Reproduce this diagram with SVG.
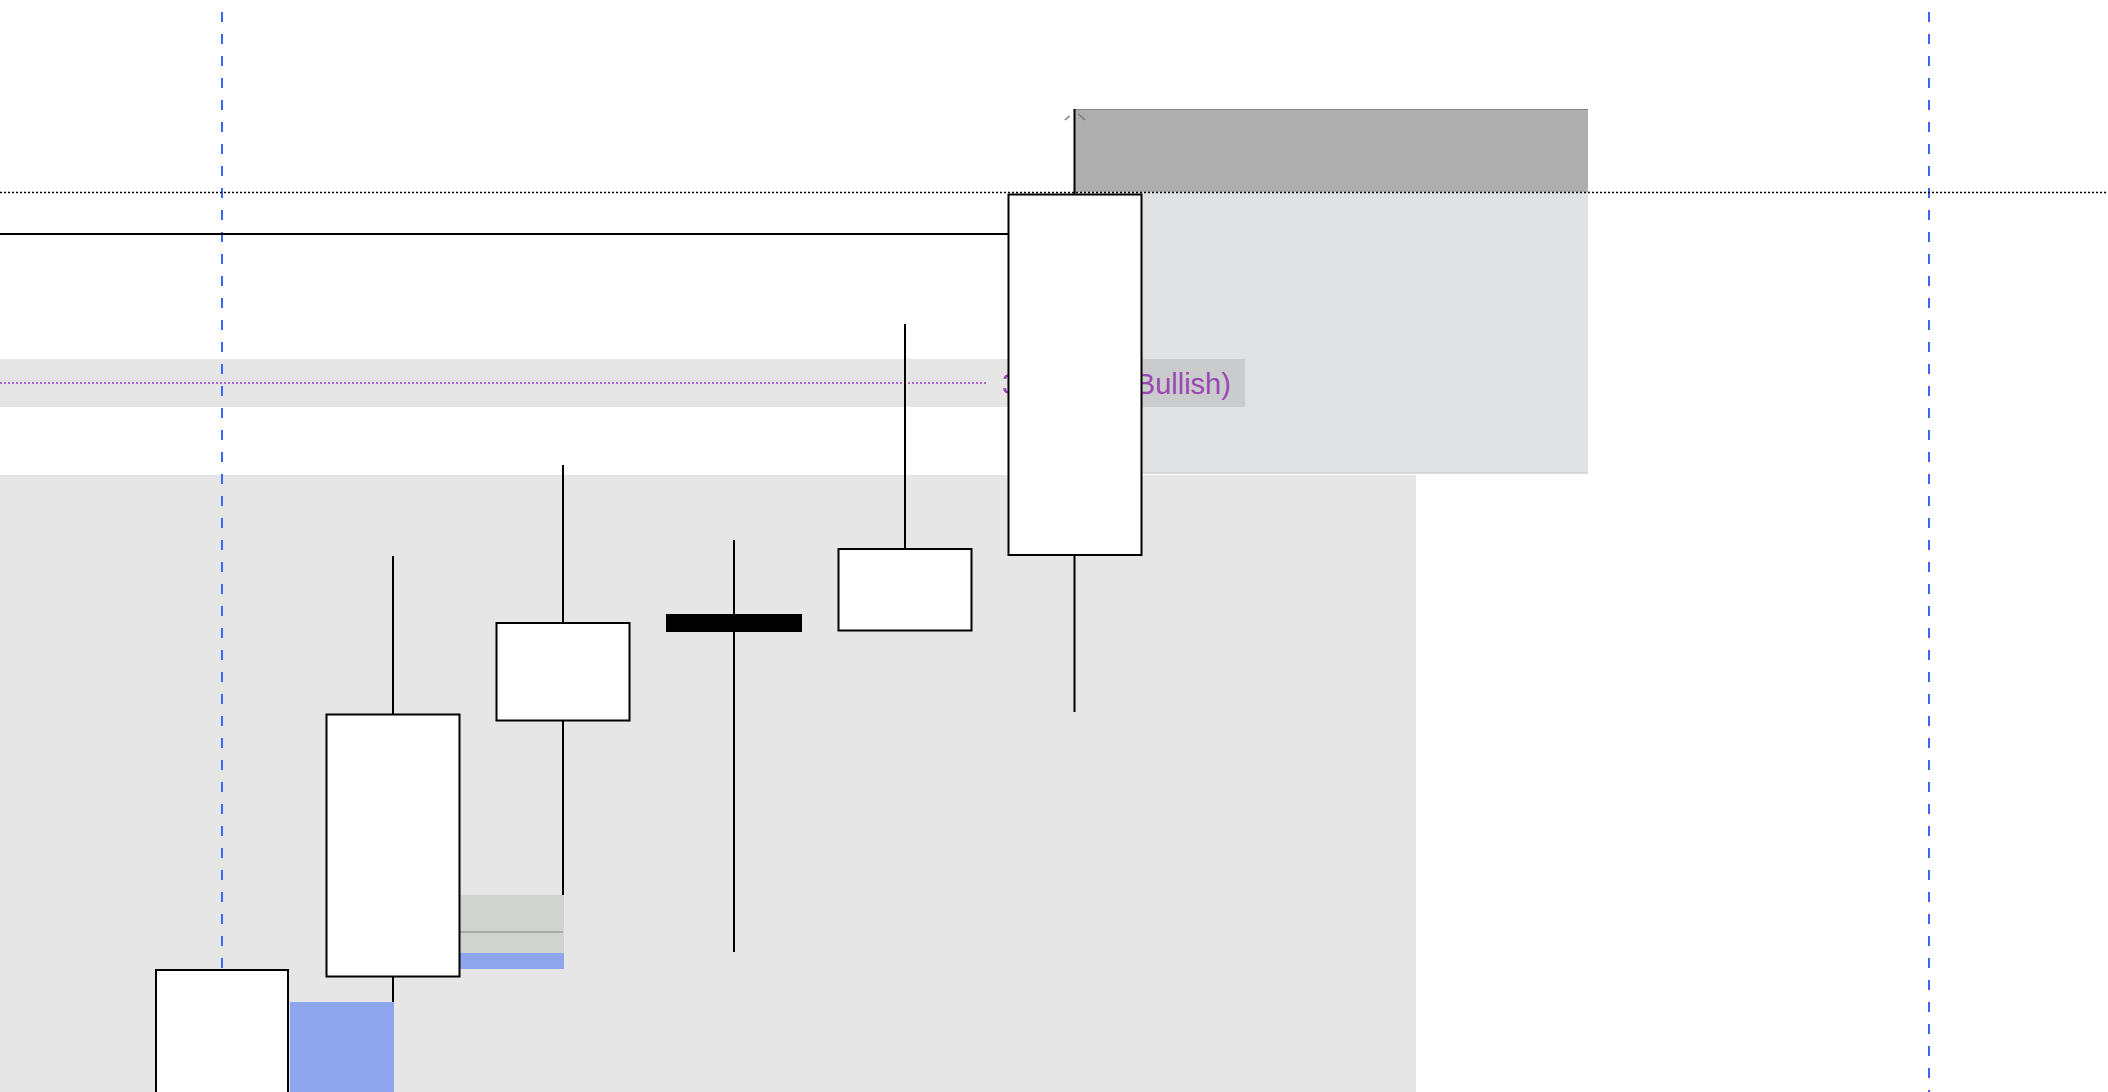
<svg xmlns="http://www.w3.org/2000/svg" width="2108" height="1092" viewBox="0 0 2108 1092">
<style>
.body{fill:#ffffff;stroke:#000000;stroke-width:2}
.wick{stroke:#000000;stroke-width:2;fill:none}
.vdash{stroke:#3a66f5;stroke-width:2;stroke-dasharray:10 12;stroke-dashoffset:-12}
.label{font-family:"Liberation Sans",Arial,sans-serif;font-size:29px;fill:#9a47b3}
</style>
<rect width="2108" height="1092" fill="#ffffff"/>
<g id="zones">
  <rect x="0" y="475" width="1416" height="617" fill="#e6e6e6"/>
  <rect x="1074" y="192" width="514" height="281" fill="#e1e2e4"/>
  <line x1="1074" y1="473" x2="1588" y2="473" stroke="#d0d1d5" stroke-width="1.5"/>
  <rect x="1074" y="109" width="514" height="83" fill="#aeaeae"/>
  <line x1="1074" y1="109.5" x2="1588" y2="109.5" stroke="#888888" stroke-width="1.2"/>
  <rect x="0" y="359" width="1245" height="48" fill="#000000" fill-opacity="0.1"/>
  <rect x="460" y="895" width="104" height="58" fill="#cfd4d1"/>
  <line x1="460" y1="932" x2="563" y2="932" stroke="#999d9a" stroke-width="1.5"/>
  <rect x="460" y="953" width="104" height="16" fill="#8fa5ee"/>
  <rect x="290" y="1002" width="104" height="90" fill="#8fa5ee"/>
</g>
<g id="connectors">
  <line class="vdash" x1="222" y1="0" x2="222" y2="1092"/>
  <line class="vdash" x1="1929" y1="0" x2="1929" y2="1092"/>
  <line x1="0" y1="192.5" x2="2108" y2="192.5" stroke="#000000" stroke-width="1.5" stroke-dasharray="2 2"/>
  <line x1="0" y1="234" x2="1008" y2="234" stroke="#000000" stroke-width="2"/>
  <line x1="0" y1="383" x2="988" y2="383" stroke="#9a3fc0" stroke-width="1.5" stroke-dasharray="2 2"/>
  <line x1="1065" y1="120" x2="1069.5" y2="116" stroke="#777777" stroke-width="1.5"/>
  <line x1="1078.5" y1="114" x2="1085" y2="120" stroke="#777777" stroke-width="1.5"/>
</g>
<g id="label">
  <text class="label" x="1002" y="394">3 Candle (Bullish)</text>
</g>
<g id="candle1">
  <rect class="body" x="156" y="970" width="132" height="130"/>
</g>
<g id="candle2">
  <line class="wick" x1="393" y1="556" x2="393" y2="1002"/>
  <rect class="body" x="326.5" y="714.5" width="133" height="262"/>
</g>
<g id="candle3">
  <line class="wick" x1="563" y1="465" x2="563" y2="895"/>
  <rect class="body" x="496.5" y="623" width="133" height="97.5"/>
</g>
<g id="candle4">
  <line class="wick" x1="734" y1="540" x2="734" y2="952"/>
  <rect x="666" y="614" width="136" height="18" fill="#000000"/>
</g>
<g id="candle5">
  <line class="wick" x1="905" y1="324" x2="905" y2="549"/>
  <rect class="body" x="838.5" y="549" width="133" height="81.5"/>
</g>
<g id="candle6">
  <line class="wick" x1="1074.5" y1="109" x2="1074.5" y2="712"/>
  <rect class="body" x="1008.5" y="194.5" width="133" height="360.5"/>
</g>
</svg>
